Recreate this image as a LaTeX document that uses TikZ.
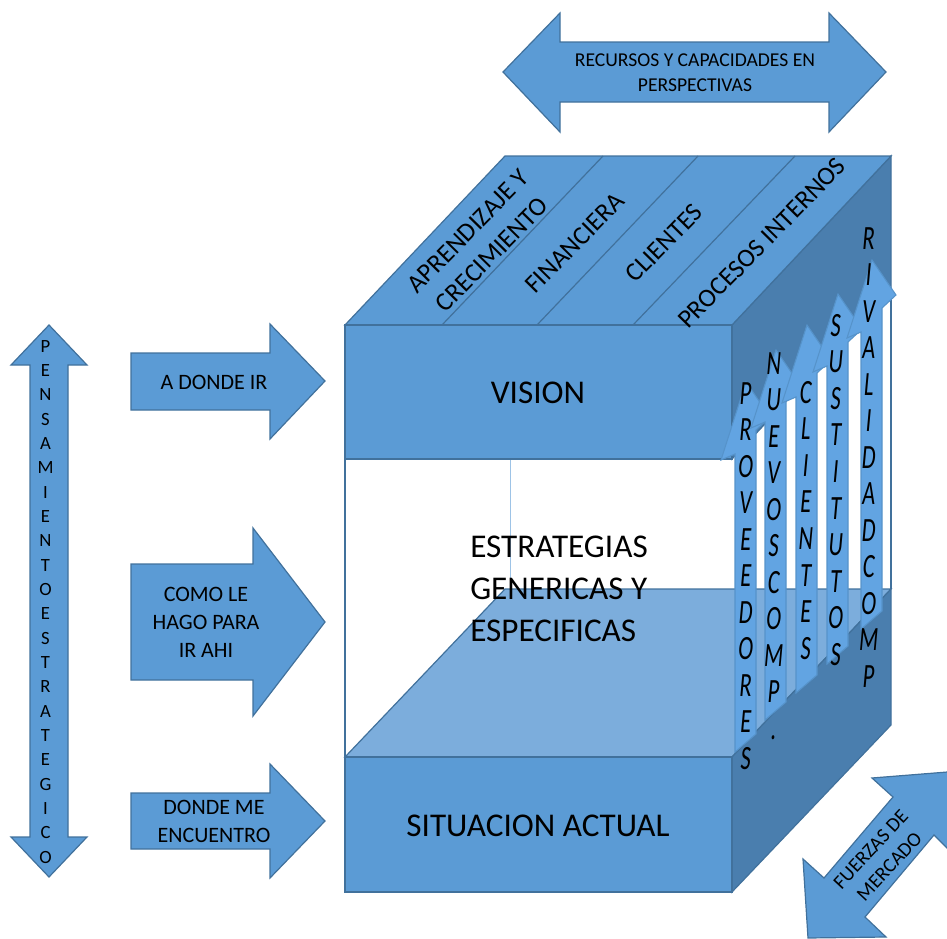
\documentclass[tikz,border=0pt]{standalone}
\usepackage{fontspec}
\setmainfont{Carlito}
\newfontfamily\stackfont[FakeSlant=0.09,FakeStretch=0.66]{Carlito}
\definecolor{cara}{HTML}{5B9BD5}
\definecolor{lado}{HTML}{4A7EAE}
\definecolor{piso}{HTML}{7CADDC}
\definecolor{flecha}{HTML}{62A4E2}
\definecolor{borde}{HTML}{41719C}
\definecolor{fondo}{HTML}{9DC3E6}

\begin{document}
\begin{tikzpicture}[x=0.75pt, y=-0.75pt,
  face/.style   = { fill=cara, draw=borde, line width=0.9pt },
  side/.style   = { fill=lado, draw=borde, line width=0.9pt },
  base/.style   = { fill=piso, draw=borde, line width=0.9pt },
  rising/.style = { fill=flecha, draw=cara!80!borde, line width=0.8pt },
  label/.style  = { font=\fontsize{16.5}{21}\selectfont, align=center, inner sep=0pt },
  title/.style  = { font=\fontsize{24.9}{31.5}\selectfont, align=center, inner sep=0pt },
  slanted/.style = { font=\fontsize{19.5}{25}\selectfont, align=center, inner sep=0pt, rotate=45.5 },
  letters/.style = { font=\stackfont\fontsize{25.5}{27.4}\selectfont, align=center,
                     inner sep=0pt, anchor=north }]
  \clip (0,0) rectangle (947,939);

  % cubo
  \draw [borde, line width=0.9pt] (345,459) -- (345,757) (891,290) -- (891,589);
  \draw [fondo, line width=0.6pt] (510,459) -- (510,589);
  \draw [base] (345,757) -- (505,589) -- (891,589) -- (732,757) -- cycle;
  \draw [side] (732,757) -- (891,589) -- (891,725) -- (732,892) -- cycle;
  \draw [side] (732,325) -- (891,156) -- (891,290) -- (732,459) -- cycle;
  \draw [face] (345,325) -- (505,156) -- (891,156) -- (732,325) -- cycle;
  \draw [face] (345,325) rectangle (732,459);
  \draw [face] (345,757) rectangle (732,892);
  \draw [borde, line width=0.9pt]
    (442,325) -- (603,156)
    (537,325) -- (698,156)
    (633,325) -- (795,156);

  % flechas
  \draw [face] (49,325) -- (87,365) -- (68,365) -- (68,837) -- (87,837) -- (49,877)
    -- (11,837) -- (30,837) -- (30,365) -- (11,365) -- cycle;
  \draw [face] (131,353) -- (270,353) -- (270,324) -- (325,381) -- (270,439) -- (270,410)
    -- (131,410) -- cycle;
  \draw [face] (131,564) -- (253,564) -- (253,528) -- (325,622) -- (253,716) -- (253,680)
    -- (131,680) -- cycle;
  \draw [face] (131,793) -- (270,793) -- (270,764) -- (325,821) -- (270,878) -- (270,849)
    -- (131,849) -- cycle;
  \draw [face] (503,72) -- (560,13) -- (560,42) -- (829,42) -- (829,13) -- (886,72)
    -- (829,132) -- (829,102) -- (560,102) -- (560,132) -- cycle;
  \draw [face] (808,938) -- (803,859) -- (824,878) -- (893,797) -- (872,778) -- (960,771)
    -- (955,856) -- (934,835) -- (865,917) -- (886,937) -- cycle;

  \foreach \x/\t/\b in {735/382/752, 765/350/720, 796/325/693, 827/294/664, 861/260/629} {
    \draw [rising]
      (\x-14,\t+78) -- (\x+11,\t) -- (\x+35,\t+35) -- (\x+21,\t+48)
      -- (\x+21,\b-18) -- (\x,\b) -- (\x,\t+72) -- cycle;
  }

  % textos
  \node (vision)  [title] at (538,393) {VISION};
  \node (actual)  [title] at (538,826) {SITUACION ACTUAL};
  \node (generic) [title, align=left, anchor=west] at (470,589)
    {ESTRATEGIAS\\GENERICAS Y\\ESPECIFICAS};

  \node (aprender) [slanted] at (480,243) {APRENDIZAJE Y\\CRECIMIENTO};
  \node (finanzas) [slanted] at (575,243) {FINANCIERA};
  \node (clientes) [slanted] at (664,243) {CLIENTES};
  \node (procesos) [slanted] at (762,243) {PROCESOS INTERNOS};

  \node (adonde)   [label] at (214,382) {A DONDE IR};
  \node (comole)   [label] at (206,622) {COMO LE\\HAGO PARA\\IR AHI};
  \node (encuentro)[label] at (214,821) {DONDE ME\\ENCUENTRO};
  \node (recursos) [label, font=\fontsize{14.7}{18.5}\selectfont] at (695,73)
    {RECURSOS Y CAPACIDADES EN\\PERSPECTIVAS};
  \node (mercado)  [label, rotate=47, font=\fontsize{15}{19}\selectfont] at (880,858)
    {FUERZAS DE\\MERCADO};
  \node (pensar)   [label, font=\fontsize{14}{18.25}\selectfont, anchor=north] at (45.5,340)
    {P\\E\\N\\S\\A\\M\\I\\E\\N\\T\\O\\E\\S\\T\\R\\A\\T\\E\\G\\I\\C\\O};

  \node (provee)     [letters] at (745,382) {P\\R\\O\\V\\E\\E\\D\\O\\R\\E\\S};
  \node (nuevos)     [letters] at (773,352) {N\\U\\E\\V\\O\\S\\C\\O\\M\\P\\.};
  \node (competir)   [letters] at (805,381) {C\\L\\I\\E\\N\\T\\E\\S};
  \node (sustitutos) [letters] at (835,314) {S\\U\\S\\T\\I\\T\\U\\T\\O\\S};
  \node (rivalidad)  [letters] at (868,227) {R\\I\\V\\A\\L\\I\\D\\A\\D\\C\\O\\M\\P};
\end{tikzpicture}
\end{document}
